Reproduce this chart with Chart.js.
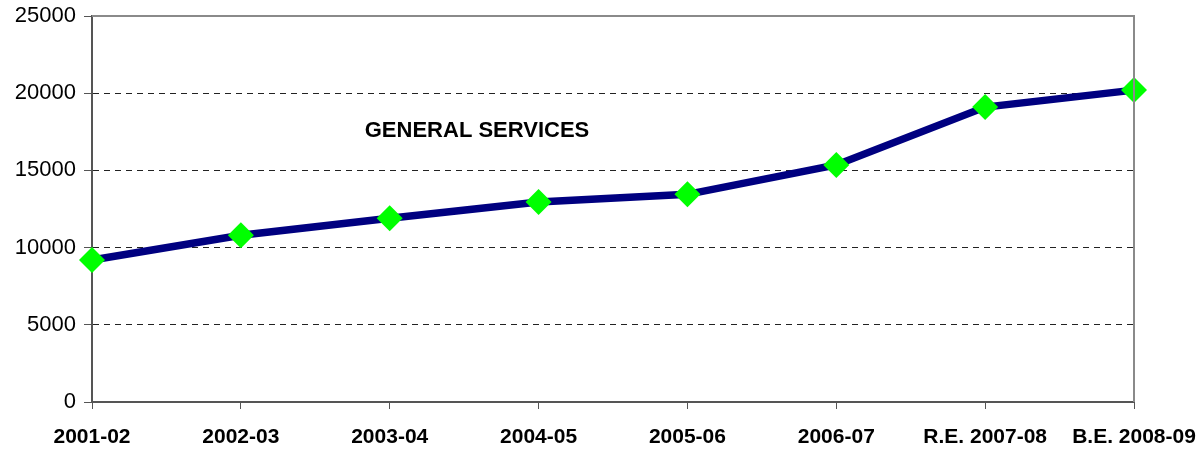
<!DOCTYPE html>
<html>
<head>
<meta charset="utf-8">
<script src="https://cdn.jsdelivr.net/npm/chart.js@4/dist/chart.umd.min.js"></script>
<style>
  html, body { margin: 0; padding: 0; background: #fff; }
  #wrap { width: 1203px; height: 451px; position: relative; }
</style>
</head>
<body>
<div id="wrap"><canvas id="chart"></canvas></div>
<script>
    'use strict';

    var years = ['2001-02', '2002-03', '2003-04', '2004-05', '2005-06', '2006-07', 'R.E. 2007-08', 'B.E. 2008-09'];
    var generalServices = [9200, 10800, 11900, 12950, 13450, 15350, 19100, 20200];
    var yTicks = [0, 5000, 10000, 15000, 20000, 25000];
    var chartTitle = 'GENERAL SERVICES';

    var frameLines = {
        id: 'frameLines',
        afterDraw: function(chart) {
            var ctx = chart.ctx;
            var a = chart.chartArea;
            var y = chart.scales.y;

            ctx.save();
            ctx.strokeStyle = '#8a8a8a';
            ctx.lineWidth = 2;
            ctx.beginPath();
            ctx.moveTo(a.left, a.top);
            ctx.lineTo(a.right, a.top);
            ctx.lineTo(a.right, a.bottom);
            ctx.stroke();

            ctx.fillStyle = '#000';
            ctx.font = 'bold 22px "Liberation Sans", Arial, sans-serif';
            ctx.textAlign = 'center';
            ctx.textBaseline = 'alphabetic';
            ctx.fillText(chartTitle, a.left + (a.right - a.left) * 0.3695, y.getPixelForValue(17150));
            ctx.restore();
        }
    };

    new Chart(document.getElementById('chart'), {
        type: 'line',
        data: {
            labels: years,
            datasets: [{
                data: generalServices,
                borderColor: '#000080',
                borderWidth: 7.5,
                backgroundColor: '#00ff00',
                pointStyle: 'rectRot',
                pointRadius: 13,
                pointBorderWidth: 0,
                pointBorderColor: '#00ff00',
                pointBackgroundColor: '#00ff00',
                tension: 0,
                fill: false
            }]
        },
        options: {
            responsive: true,
            maintainAspectRatio: false,
            animation: false,
            layout: {
                padding: { left: 0, right: 69, top: 16, bottom: 0 }
            },
            plugins: {
                legend: { display: false },
                tooltip: { enabled: false }
            },
            scales: {
                x: {
                    offset: false,
                    afterFit: function(scale) {
                        scale.height = 49;
                        scale.paddingLeft = 0;
                        scale.paddingRight = 0;
                    },
                    grid: {
                        drawOnChartArea: false,
                        drawTicks: true,
                        tickLength: 7,
                        tickColor: '#555'
                    },
                    border: { color: '#555', width: 2 },
                    ticks: {
                        color: '#000',
                        padding: 16,
                        maxRotation: 0,
                        autoSkip: false,
                        font: { family: '"Liberation Sans", Arial, sans-serif', size: 21, weight: 'bold' }
                    }
                },
                y: {
                    min: 0,
                    max: 25000,
                    afterFit: function(scale) {
                        scale.width = 92;
                        scale.paddingTop = 0;
                        scale.paddingBottom = 0;
                    },
                    afterBuildTicks: function(scale) {
                        scale.ticks = yTicks.map(function(v) { return { value: v }; });
                    },
                    grid: {
                        color: function(c) {
                            return (c.tick && (c.tick.value === 0 || c.tick.value === 25000)) ? 'rgba(0,0,0,0)' : '#222';
                        },
                        lineWidth: 1,
                        drawTicks: true,
                        tickLength: 8,
                        tickColor: '#555'
                    },
                    border: { color: '#555', width: 2, dash: [6, 5] },
                    ticks: {
                        color: '#000',
                        padding: 8,
                        font: { family: '"Liberation Sans", Arial, sans-serif', size: 22 },
                        callback: function(v) { return String(v); }
                    }
                }
            }
        },
        plugins: [frameLines]
    });
</script>
</body>
</html>
